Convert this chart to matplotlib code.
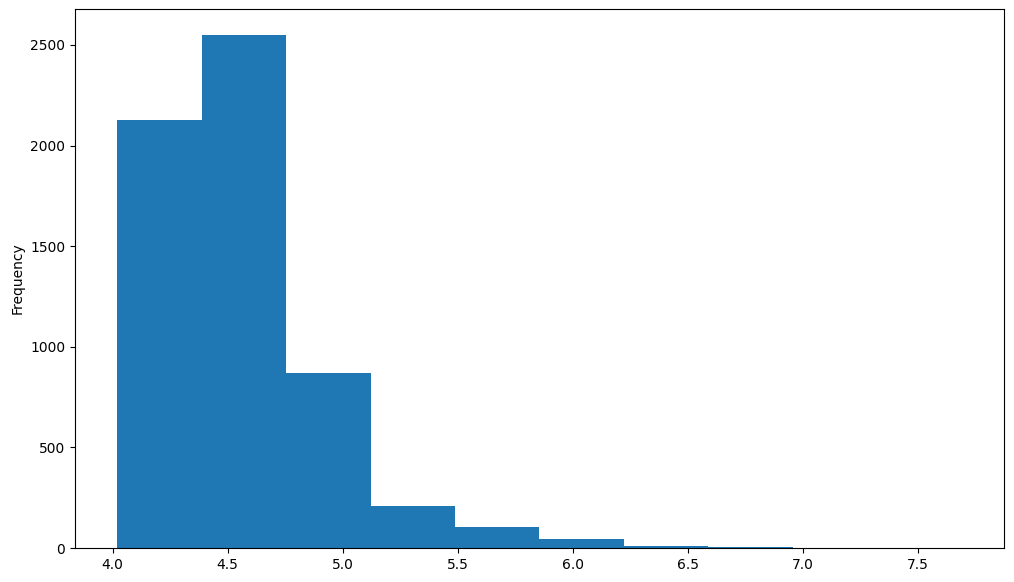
import numpy as np
import matplotlib.pyplot as plt

# histogram: 10 equal bins between min and max
x_min = 4.02
x_max = 7.692
n_bins = 10
counts = [2127, 2551, 870, 209, 104, 45, 10, 4, 1, 1]

edges = np.linspace(x_min, x_max, n_bins + 1)

fig = plt.figure(figsize=(10.14, 5.82), dpi=100)
ax = fig.add_axes([75 / 1014, 34 / 582, 929 / 1014, 539 / 582])

ax.hist(edges[:-1], bins=edges, weights=counts, color='#1f77b4')
ax.set_ylabel("Frequency")

fig.savefig("out.png", dpi=100)
